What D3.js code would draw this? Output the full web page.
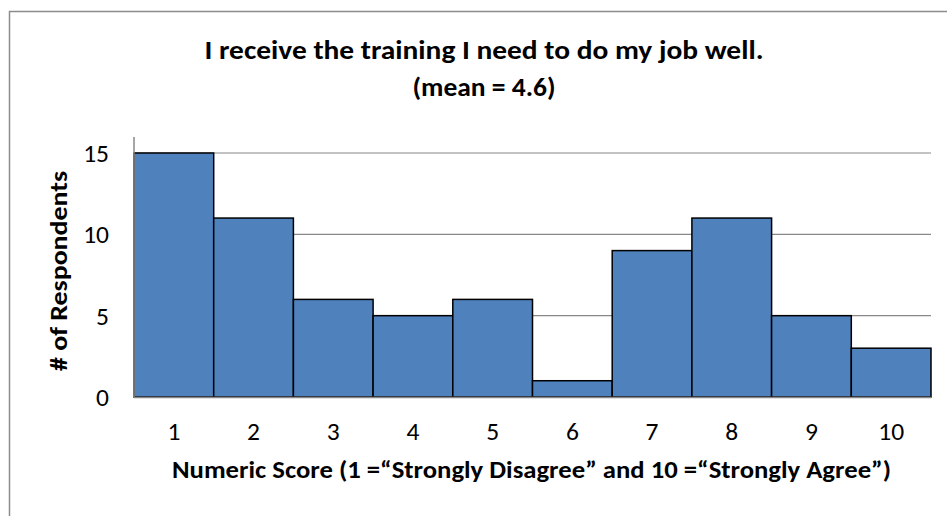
<!DOCTYPE html>
<html><head><meta charset="utf-8">
<script src="https://cdn.jsdelivr.net/npm/d3@7"></script>
<style>body{margin:0;background:#fff}svg{display:block}text{font-family:Carlito,Calibri,Lato,"Open Sans",sans-serif}</style>
</head><body>
<svg id="c" width="947" height="516"></svg>
<script>
const categories = ["1","2","3","4","5","6","7","8","9","10"];
const values = [15,11,6,5,6,1,9,11,5,3];
const yTicks = [0,5,10,15];
const titleLines = ["I receive the training I need to do my job well.","(mean = 4.6)"];
const xTitle = "Numeric Score (1 =\u201cStrongly Disagree\u201d and 10 =\u201cStrongly Agree\u201d)";
const yTitle = "# of Respondents";

const svg = d3.select("#c");
const m = {l:134, r:931, t:137, b:397};
const x = d3.scaleBand().domain(categories).range([m.l, m.r]).padding(0);
const y = d3.scaleLinear().domain([0,15]).range([m.b, 153]);
const FF = "Carlito,Calibri,Lato,sans-serif";

svg.append("rect").attr("x",9.5).attr("y",11.5).attr("width",960).attr("height",520)
  .attr("fill","none").attr("stroke","#8c8c8c").attr("stroke-width",1.5);

// gridlines
svg.append("g").selectAll("line").data(yTicks.filter(d=>d>0)).join("line")
  .attr("x1",m.l).attr("x2",m.r).attr("y1",d=>y(d)).attr("y2",d=>y(d))
  .attr("stroke","#888").attr("stroke-width",1.2);

// bars
svg.append("g").selectAll("rect").data(values).join("rect")
  .attr("x",(d,i)=>x(categories[i])).attr("width",x.bandwidth())
  .attr("y",d=>y(d)).attr("height",d=>y(0)-y(d))
  .attr("fill","#4F81BD").attr("stroke","#000").attr("stroke-width",1.5);

// axes lines
svg.append("line").attr("x1",m.l).attr("x2",m.l).attr("y1",m.t).attr("y2",m.b)
  .attr("stroke","#888").attr("stroke-width",1.5);
svg.append("line").attr("x1",m.l).attr("x2",m.r).attr("y1",m.b+0.5).attr("y2",m.b+0.5)
  .attr("stroke","#888").attr("stroke-width",1.5);

// y tick labels
const yAxis = d3.axisLeft(y).tickValues(yTicks).tickSize(0).tickPadding(0);
const ga = svg.append("g").attr("transform",`translate(109,0)`).call(yAxis);
ga.select(".domain").remove();
ga.attr("font-size",null).attr("font-family",null);
ga.selectAll("text").attr("font-size",25.5).attr("fill","#000").attr("font-family",FF)
  .attr("dy","0.33em").attr("text-anchor","end");

// x tick labels
const xAxis = d3.axisBottom(x).tickSize(0).tickPadding(0);
const gx = svg.append("g").attr("transform",`translate(0,440)`).call(xAxis);
gx.select(".domain").remove();
gx.attr("font-size",null).attr("font-family",null);
gx.selectAll("text").attr("font-size",25.5).attr("fill","#000").attr("font-family",FF).attr("dy","0");

// titles
const tLen = [559,143];
svg.append("g").selectAll("text").data(titleLines).join("text")
  .attr("x",(d,i)=>484 - tLen[i]/2).attr("y",(d,i)=>59+i*37)
  .attr("textLength",(d,i)=>tLen[i]).attr("lengthAdjust","spacingAndGlyphs")
  .attr("font-size",26).attr("font-weight","bold").attr("font-family",FF).text(d=>d);
svg.append("text").attr("x",172).attr("y",478)
  .attr("textLength",719).attr("lengthAdjust","spacingAndGlyphs")
  .attr("font-size",24.5).attr("font-weight","bold").attr("font-family",FF).text(xTitle);
svg.append("text").attr("transform","translate(67,371) rotate(-90)")
  .attr("textLength",200).attr("lengthAdjust","spacingAndGlyphs")
  .attr("font-size",24).attr("font-weight","bold").attr("font-family",FF).text(yTitle);
</script>
</body></html>
